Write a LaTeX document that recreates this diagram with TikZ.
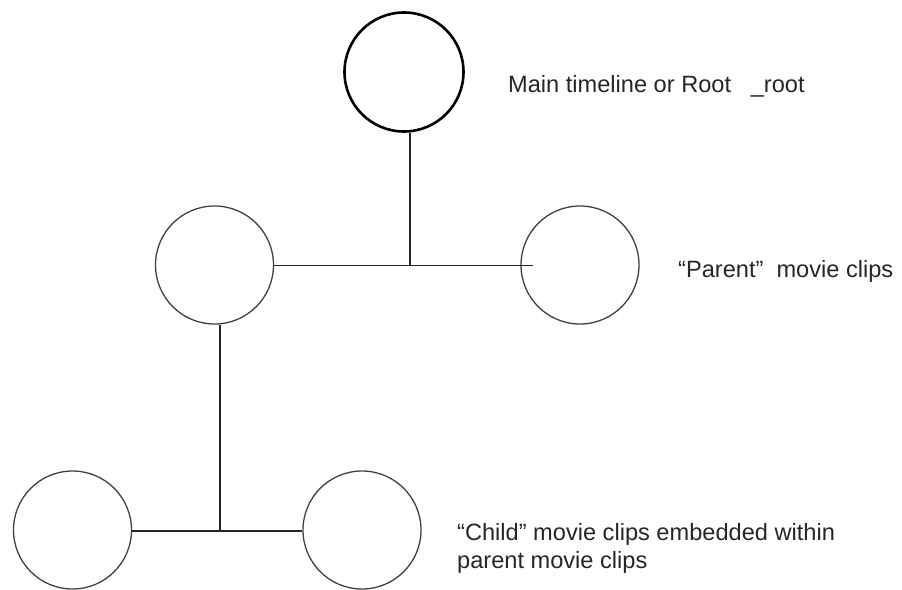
\documentclass[tikz,border=0pt]{standalone}
\usepackage{fontspec}
\setmainfont{Liberation Sans}
\begin{document}
\begin{tikzpicture}[x=1pt, y=-1pt,
  clip/.style={circle, draw=black!75, line width=1.3pt, minimum size=118pt, inner sep=0pt},
  rootclip/.style={clip, draw=black, line width=2.6pt, minimum size=119pt},
  link/.style={draw=black!85, line width=1.5pt},
  caption/.style={anchor=base west, inner sep=0pt, text=black!85,
    font=\fontsize{23.6pt}{27.5pt}\selectfont, align=left}]
  \useasboundingbox (0,0) rectangle (902,589);
  % timeline hierarchy
  \node[rootclip] (root) at (404,72) {};
  \node[clip] (pl) at (214.5,265) {};
  \node[clip] (pr) at (580,265) {};
  \node[clip] (cl) at (72.5,530) {};
  \node[clip] (cr) at (362,530) {};
  % junctions of the connectors
  \coordinate (j1) at (410,265.5);
  \coordinate (pend) at (533,265.5);
  \coordinate (j2) at (220,531);
  \draw[link] (j1 |- root.south) -- (j1);
  \draw[link] (pl.east |- j1) -- (pend);
  \draw[link] (j2 |- pl.south) -- (j2);
  \draw[link] (cl.east |- j2) -- (cr.west |- j2);
  % labels
  \node[caption] (t1) at (508,92) {Main timeline or Root~~~\_root};
  \node[caption] (t2) at (678,277) {“Parent”~~movie clips};
  \node[caption] (t3) at (457,568) {“Child” movie clips embedded within\\parent movie clips};
\end{tikzpicture}
\end{document}
